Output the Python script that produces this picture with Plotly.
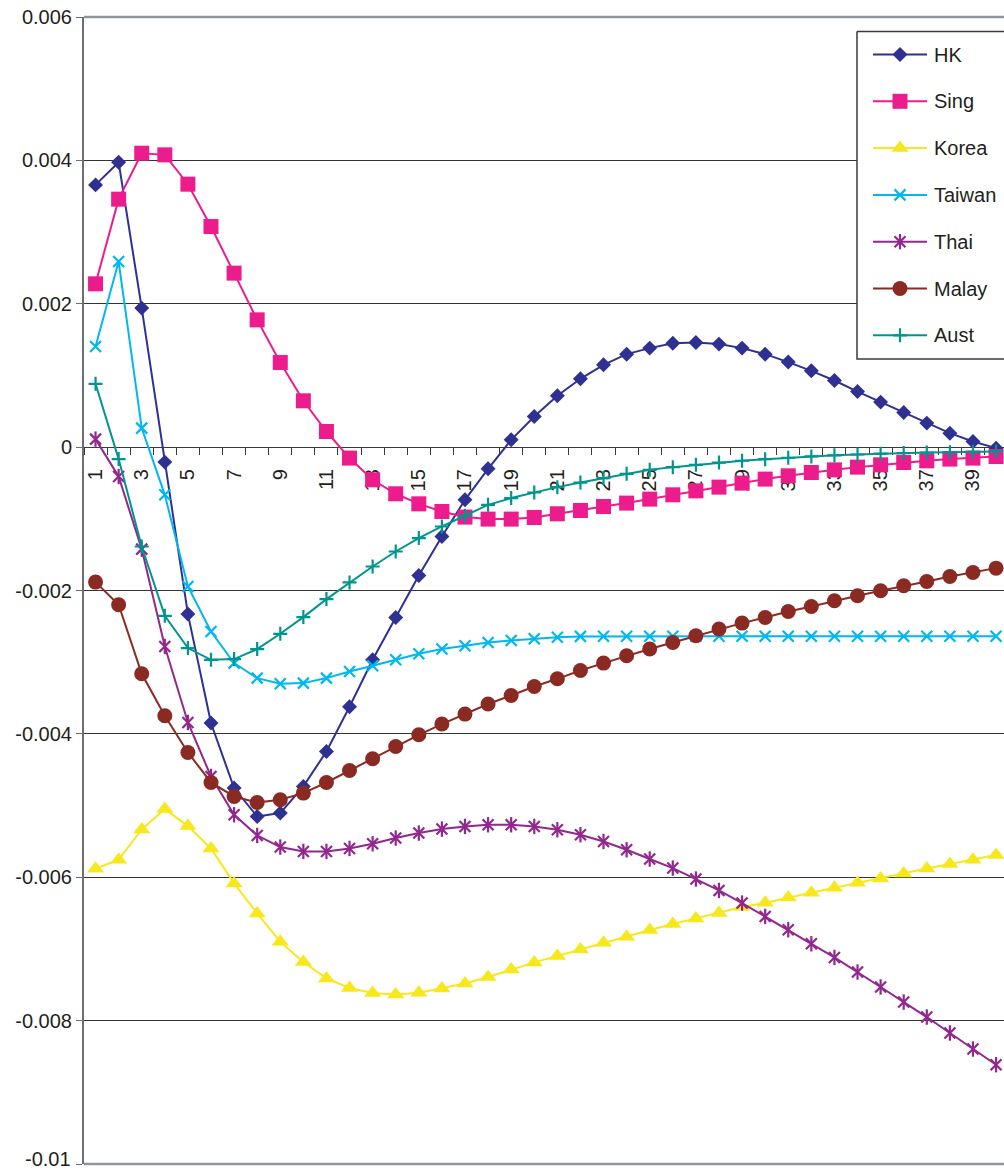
import plotly.graph_objects as go

# ---------------------------------------------------------------- data
periods = list(range(1, 41))

hk = [0.003658, 0.003975, 0.001939, -0.000209, -0.002329, -0.003849, -0.004756,
      -0.005152, -0.005105, -0.004733, -0.004245, -0.003622, -0.002967, -0.002376,
      -0.001791, -0.001247, -0.000735, -0.000303, 0.000102, 0.000427, 0.000716,
      0.000953, 0.001148, 0.001297, 0.001381, 0.001450, 0.001459, 0.001437,
      0.001381, 0.001297, 0.001186, 0.001064, 0.000929, 0.000775, 0.000628,
      0.000483, 0.000335, 0.000195, 0.000078, -0.000014]

sing = [0.002278, 0.003459, 0.004100, 0.004077, 0.003668, 0.003077, 0.002427,
        0.001775, 0.001180, 0.000646, 0.000218, -0.000153, -0.000456, -0.000651,
        -0.000791, -0.000898, -0.000976, -0.001004, -0.001004, -0.000982, -0.000930,
        -0.000884, -0.000828, -0.000781, -0.000725, -0.000665, -0.000610, -0.000558,
        -0.000502, -0.000446, -0.000400, -0.000354, -0.000317, -0.000279, -0.000247,
        -0.000215, -0.000191, -0.000167, -0.000153, -0.000131]

korea = [-0.005882, -0.005756, -0.005333, -0.005049, -0.005286, -0.005598, -0.006086,
         -0.006505, -0.006900, -0.007183, -0.007411, -0.007545, -0.007615, -0.007635,
         -0.007611, -0.007551, -0.007481, -0.007392, -0.007286, -0.007188, -0.007099,
         -0.007007, -0.006913, -0.006830, -0.006736, -0.006653, -0.006575, -0.006499,
         -0.006416, -0.006356, -0.006282, -0.006216, -0.006147, -0.006077, -0.006017,
         -0.005947, -0.005877, -0.005816, -0.005756, -0.005690]

taiwan = [0.001403, 0.002589, 0.000265, -0.000665, -0.001944, -0.002572, -0.003013,
          -0.003222, -0.003301, -0.003292, -0.003222, -0.003130, -0.003050, -0.002967,
          -0.002883, -0.002817, -0.002771, -0.002725, -0.002697, -0.002674, -0.002651,
          -0.002640, -0.002638, -0.002638, -0.002638, -0.002638, -0.002638, -0.002638,
          -0.002638, -0.002638, -0.002638, -0.002638, -0.002638, -0.002638, -0.002638,
          -0.002638, -0.002638, -0.002638, -0.002638, -0.002638]

thai = [0.000112, -0.000410, -0.001423, -0.002781, -0.003841, -0.004594, -0.005128,
        -0.005417, -0.005579, -0.005640, -0.005640, -0.005598, -0.005533, -0.005453,
        -0.005384, -0.005328, -0.005291, -0.005268, -0.005268, -0.005291, -0.005338,
        -0.005407, -0.005501, -0.005617, -0.005746, -0.005872, -0.006025, -0.006184,
        -0.006360, -0.006547, -0.006732, -0.006928, -0.007119, -0.007322, -0.007531,
        -0.007741, -0.007950, -0.008173, -0.008396, -0.008615]

malay = [-0.001883, -0.002199, -0.003162, -0.003748, -0.004259, -0.004678, -0.004873,
         -0.004957, -0.004919, -0.004826, -0.004678, -0.004510, -0.004347, -0.004176,
         -0.004013, -0.003863, -0.003724, -0.003584, -0.003464, -0.003339, -0.003232,
         -0.003116, -0.003013, -0.002911, -0.002817, -0.002725, -0.002632, -0.002538,
         -0.002455, -0.002376, -0.002293, -0.002223, -0.002144, -0.002074, -0.002004,
         -0.001934, -0.001874, -0.001805, -0.001749, -0.001688]

aust = [0.000883, -0.000167, -0.001386, -0.002353, -0.002803, -0.002967, -0.002957,
        -0.002817, -0.002604, -0.002371, -0.002120, -0.001888, -0.001665, -0.001456,
        -0.001269, -0.001107, -0.000958, -0.000805, -0.000711, -0.000633, -0.000558,
        -0.000494, -0.000432, -0.000372, -0.000317, -0.000279, -0.000247, -0.000215,
        -0.000190, -0.000168, -0.000148, -0.000130, -0.000115, -0.000103, -0.000092,
        -0.000083, -0.000076, -0.000070, -0.000065, -0.000060]

series_names = ["HK", "Sing", "Korea", "Taiwan", "Thai", "Malay", "Aust"]
series_values = [hk, sing, korea, taiwan, thai, malay, aust]

y_tick_vals = [0.006, 0.004, 0.002, 0, -0.002, -0.004, -0.006, -0.008, -0.01]
y_tick_text = ["0.006", "0.004", "0.002", "0", "-0.002", "-0.004", "-0.006", "-0.008", "-0.01"]
x_tick_vals = [p for p in periods if p % 2 == 1]
x_tick_text = [str(p) for p in x_tick_vals]

# ---------------------------------------------------------------- styling
W, H = 1004, 1173
ML, MT, MB, MR = 84, 17, 9, 0
CAT_PX = 23.09                       # width of one category slot in pixels
Y_MIN, Y_MAX = -0.01, 0.006
Y_PAD = 1e-9                         # keeps the end ticks inside the range
X_RANGE = [0.5, 0.5 + (W - ML - MR) / CAT_PX]
ZERO_FRAC = (0 - Y_MIN) / (Y_MAX - Y_MIN)

FONT = "Liberation Sans, Arial, sans-serif"
TEXT = "#231f20"

styles = {
    "HK":     dict(color="#2e3192", symbol="diamond", size=11.5, open=False),
    "Sing":   dict(color="#ec1c8c", symbol="square", size=15, open=False),
    "Korea":  dict(color="#f7e81e", symbol="triangle-up", size=15, open=False),
    "Taiwan": dict(color="#00b7ef", symbol="x-thin", size=11, open=True),
    "Thai":   dict(color="#92278f", symbol="x-thin", size=11, open=True),
    "Malay":  dict(color="#8b2a22", symbol="circle", size=15, open=False),
    "Aust":   dict(color="#00958f", symbol="cross-thin", size=10, open=True),
}


def marker_for(st, size=None):
    s = st["size"] if size is None else size
    if st["open"]:
        return dict(symbol=st["symbol"], size=s, color=st["color"],
                    line=dict(width=2.2, color=st["color"]))
    return dict(symbol=st["symbol"], size=s, color=st["color"], line=dict(width=0))


fig = go.Figure()

for name, vals in zip(series_names, series_values):
    st = styles[name]
    fig.add_trace(go.Scatter(
        x=periods, y=vals, name=name, mode="lines+markers",
        line=dict(color=st["color"], width=2),
        marker=marker_for(st), showlegend=False, hoverinfo="x+y+name",
    ))
    if name == "Thai":
        # the star marker: an x with a vertical stroke through it
        fig.add_trace(go.Scatter(
            x=periods, y=vals, name=name, mode="markers",
            marker=dict(symbol="line-ns", size=st["size"],
                        line=dict(width=2.2, color=st["color"])),
            showlegend=False, hoverinfo="skip",
        ))

# ---------------------------------------------------------------- legend box (pixel overlay axes)
LEG_X0, LEG_X1 = 857, 1030
LEG_Y0, LEG_Y1 = 31.5, 359
LEG_ROW0, LEG_ROW_STEP = 54.5, 46.8
LEG_LINE = (873, 927)
LEG_TEXT_X = 932

fig.add_trace(go.Scatter(
    x=[LEG_X0, LEG_X1, LEG_X1, LEG_X0, LEG_X0],
    y=[LEG_Y0, LEG_Y0, LEG_Y1, LEG_Y1, LEG_Y0],
    xaxis="x2", yaxis="y2", mode="lines", fill="toself", fillcolor="white",
    line=dict(color="#3a3a3a", width=1.5), showlegend=False, hoverinfo="skip",
))

for i, name in enumerate(series_names):
    st = styles[name]
    yc = LEG_ROW0 + i * LEG_ROW_STEP
    xm = (LEG_LINE[0] + LEG_LINE[1]) / 2
    fig.add_trace(go.Scatter(
        x=list(LEG_LINE), y=[yc, yc], xaxis="x2", yaxis="y2", mode="lines",
        line=dict(color=st["color"], width=2), showlegend=False, hoverinfo="skip",
    ))
    fig.add_trace(go.Scatter(
        x=[xm], y=[yc], xaxis="x2", yaxis="y2", mode="markers",
        marker=marker_for(st), showlegend=False, hoverinfo="skip",
    ))
    if name == "Thai":
        fig.add_trace(go.Scatter(
            x=[xm], y=[yc], xaxis="x2", yaxis="y2", mode="markers",
            marker=dict(symbol="line-ns", size=st["size"],
                        line=dict(width=2.2, color=st["color"])),
            showlegend=False, hoverinfo="skip",
        ))
    fig.add_annotation(
        x=LEG_TEXT_X, y=yc, xref="x2", yref="y2", text=name, showarrow=False,
        xanchor="left", yanchor="middle", font=dict(family=FONT, size=20, color=TEXT),
    )

# the lowest y label sits on the bottom edge: draw it as an annotation nudged
# upward so it stays inside the figure
y_axis_text = list(y_tick_text)
y_axis_text[-1] = ""
fig.add_annotation(
    x=0, xref="paper", y=y_tick_vals[-1], yref="y", text=y_tick_text[-1],
    showarrow=False, xanchor="right", yanchor="middle", xshift=-12, yshift=5,
    borderpad=0, font=dict(family=FONT, size=20, color=TEXT),
)

# ---------------------------------------------------------------- layout
fig.update_layout(
    width=W, height=H,
    margin=dict(l=ML, r=MR, t=MT, b=MB, autoexpand=False),
    paper_bgcolor="white", plot_bgcolor="white",
    font=dict(family=FONT, size=20, color=TEXT),
    showlegend=False,
    xaxis=dict(
        type="linear", range=X_RANGE, anchor="free", position=ZERO_FRAC,
        showline=True, linecolor="#3a3a3a", linewidth=1,
        showgrid=False, zeroline=False, layer="below traces",
        tickmode="array", tickvals=x_tick_vals, ticktext=x_tick_text,
        tickangle=-90, ticks="outside", ticklen=13, tickcolor="rgba(0,0,0,0)",
        tickfont=dict(family=FONT, size=20, color=TEXT),
        minor=dict(tickmode="array", tickvals=[p - 0.5 for p in periods] + [40.5],
                   ticks="outside", ticklen=7, tickwidth=1, tickcolor="#3a3a3a",
                   showgrid=False),
    ),
    yaxis=dict(
        range=[Y_MIN - Y_PAD, Y_MAX + Y_PAD], showline=True, linecolor="#6d6e71",
        linewidth=2, showgrid=True, gridcolor="#333333", gridwidth=1, zeroline=False,
        tickmode="array", tickvals=y_tick_vals, ticktext=y_axis_text,
        ticks="outside", ticklen=6, tickwidth=1, tickcolor="#6d6e71",
        tickfont=dict(family=FONT, size=20, color=TEXT),
    ),
    xaxis2=dict(overlaying="x", range=[ML, W - MR], visible=False, fixedrange=True),
    yaxis2=dict(overlaying="y", range=[H - MB, MT], visible=False, fixedrange=True),
    shapes=[
        dict(type="line", xref="paper", yref="paper", x0=0, x1=1, y0=1, y1=1,
             line=dict(color="#8e969c", width=2.5), layer="above"),
        dict(type="line", xref="paper", yref="paper", x0=0, x1=1, y0=0, y1=0,
             line=dict(color="#8e969c", width=2.5), layer="above"),
    ],
)

fig.write_html("out.html")
